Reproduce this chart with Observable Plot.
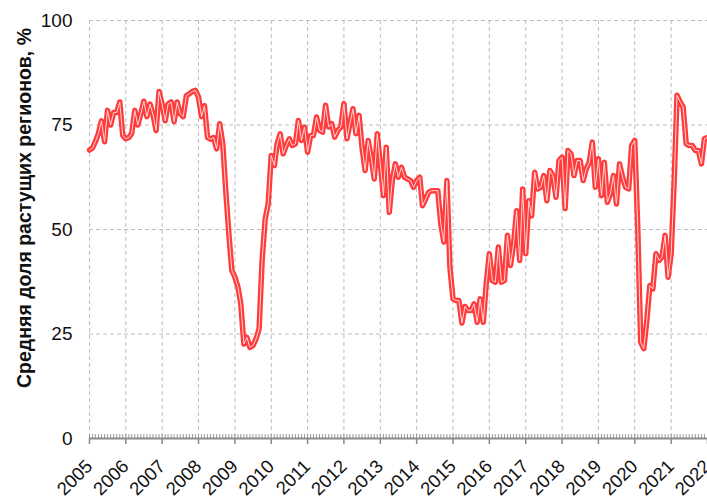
<!DOCTYPE html>
<html>
<head>
<meta charset="utf-8">
<script src="https://cdn.jsdelivr.net/npm/d3@7"></script>
<script src="https://cdn.jsdelivr.net/npm/@observablehq/plot@0.6"></script>
<style>
  html, body { margin: 0; padding: 0; background: #fff; }
  #chart svg { display: block; }
</style>
</head>
<body>
<div id="chart"></div>
<script>
// Monthly series, starting January 2005
const startMonth = "2005-01-01";
const endMonth = "2022-01-01";
const shareValues = [
  69, 69.5, 71, 73, 76, 71, 78.5, 75, 78, 78, 80.5, 72.5,
  71.7, 72, 73, 78.5, 75, 77.7, 80.7, 77, 80, 77.5, 73.7, 83,
  80, 76, 80, 80.5, 75.8, 80.5, 77.7, 77, 82, 82.5, 83, 83.3,
  81.7, 77, 79.6, 72, 71.6, 72, 69.3, 75.3, 70.5, 59.3, 49, 40.2,
  38.6, 36.2, 32.2, 22.6, 24.2, 21.8, 22.2, 23.8, 26.2, 42.5, 52.5, 56.1,
  67.7, 65.3, 70.5, 72.9, 68.1, 70.1, 71.7, 70.1, 70.5, 76.1, 71.3, 74.5,
  68.5, 72.5, 72.5, 76.9, 73.7, 73.3, 79.7, 74.5, 75.3, 72.1, 73.7, 74.5,
  80.1, 71.7, 75.3, 78.9, 72.9, 77.3, 69.7, 64.1, 71.3, 67.3, 62.1, 72.9,
  65.7, 58.1, 69.7, 54.1, 61.7, 65.7, 62.5, 64.9, 62.5, 62.1, 61.7, 60.1,
  61.7, 62.5, 55.7, 57.3, 58.9, 59.3, 59.3, 59.3, 51.3, 47, 61.7, 41,
  33.4, 33, 33, 27.6, 31.6, 30.6, 30.6, 32.2, 27.8, 33.4, 27.8, 37,
  44.2, 37.8, 37.4, 45.8, 37.4, 37.8, 48.6, 41.4, 46.6, 54.5, 42.6, 59.7,
  44.2, 56.9, 53.3, 63.7, 59.7, 60.1, 62.9, 56.9, 64.1, 62.9, 57.7, 66.5,
  67.3, 55, 68.9, 68.1, 62.9, 66.5, 66.5, 61.7, 64.5, 66.1, 70.9, 60.1,
  66.9, 58.1, 66.1, 56.5, 58.5, 62.9, 56.1, 65.7, 62.5, 60.1, 59.7, 70.1,
  71.3, 49.8, 23, 21.5, 28.2, 36.6, 35.8, 44.2, 42.6, 43.4, 48.6, 38.6,
  44.2, 62, 82.1, 80.5, 79.3, 70.5, 70.1, 70.1, 68.9, 68.9, 65.7, 71.7,
  72
];
const yTicks = [0, 25, 50, 75, 100];
const yGridTicks = [25, 50, 75, 100];
const yTitle = "Средняя доля растущих регионов, %";

const start = new Date(startMonth);
const end = new Date(endMonth);
const data = shareValues.map((v, i) => ({date: d3.utcMonth.offset(start, i), value: v}));
const years = d3.utcYear.range(start, d3.utcYear.offset(end, 1));
const months = d3.utcMonth.range(start, d3.utcMonth.offset(end, 1));
const yearFmt = d3.utcFormat("%Y");

const font = "'Liberation Sans', Arial, sans-serif";

const chart = Plot.plot({
  width: 707,
  height: 498,
  marginLeft: 89,
  marginRight: 0,
  marginTop: 20,
  marginBottom: 60,
  style: {fontFamily: font, background: "#fff", color: "#111", overflow: "visible"},
  x: {type: "utc", domain: [start, end]},
  y: {domain: [0, 100]},
  marks: [
    Plot.gridX(years, {stroke: "#bdbdbd", strokeOpacity: 1, strokeDasharray: "4,3", strokeWidth: 1}),
    Plot.gridY(yGridTicks, {stroke: "#bdbdbd", strokeOpacity: 1, strokeDasharray: "4,3", strokeWidth: 1}),
    Plot.axisY(yTicks, {tickSize: 0, tickPadding: 17, fontSize: 19, label: null, fill: "#111"}),
    Plot.axisX(years, {tickFormat: () => "", tickSize: 6, label: null, stroke: "#8a8a8a", strokeWidth: 1.5}),
    Plot.text(years, {x: d => d, text: d => yearFmt(d), frameAnchor: "bottom", rotate: -45,
      textAnchor: "end", lineAnchor: "bottom", fontSize: 18.5, dx: 4, dy: 29, fill: "#111"}),
    Plot.ruleX(months, {x: d => d, y1: 0, y2: 0, insetTop: -4, stroke: "#9a9a9a", strokeWidth: 1}),
    Plot.ruleY([0], {stroke: "#8a8a8a", strokeWidth: 2}),
    Plot.lineY(data, {x: "date", y: "value", stroke: "#ff3b3b", strokeWidth: 5.5, strokeLinejoin: "round"}),
    Plot.lineY(data, {x: "date", y: "value", stroke: "#ffd6d6", strokeWidth: 1, strokeLinejoin: "round"})
  ]
});

const svg = d3.select(chart);
svg.append("text")
  .attr("transform", "translate(26,208) rotate(-90)")
  .attr("text-anchor", "middle")
  .attr("dominant-baseline", "middle")
  .attr("font-family", font)
  .attr("font-weight", "bold")
  .attr("font-size", 19.5)
  .attr("fill", "#111")
  .text(yTitle);

document.getElementById("chart").appendChild(chart);
</script>
</body>
</html>
